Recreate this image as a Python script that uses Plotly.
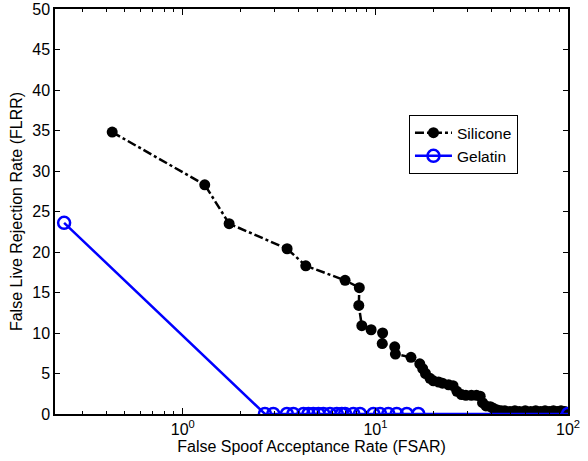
import plotly.graph_objects as go
import math

silicone_x = [0.43, 1.30, 1.74, 3.48, 4.35, 6.96, 8.25, 8.2, 8.5, 9.5, 10.9, 10.85,
              12.6, 12.7, 15.3, 17.0, 17.6, 18.2, 19.2, 20.0, 21.3, 22.3, 24.0, 25.3,
              26.5, 28.0, 29.5, 31.5, 33.5, 35.0, 36.0, 37.5, 39.5, 41.0, 43.0, 45.0,
              47.0, 50.0, 53.0, 56.0, 60.0, 64.0, 68.0, 72.0, 76.0, 80.0, 84.0, 88.0,
              92.0, 96.0, 100.0]
silicone_y = [34.8, 28.3, 23.5, 20.4, 18.3, 16.5, 15.6, 13.4, 10.9, 10.4, 10.0, 8.7,
              8.3, 7.4, 7.0, 6.2, 5.6, 5.0, 4.4, 4.1, 3.95, 3.8, 3.6, 3.5,
              2.8, 2.4, 2.3, 2.3, 2.3, 2.2, 1.4, 1.0, 0.9, 0.7, 0.5, 0.4,
              0.4, 0.3, 0.4, 0.3, 0.4, 0.3, 0.4, 0.3, 0.4, 0.3, 0.4, 0.3,
              0.4, 0.3, 0.2]

gelatin_x = [0.242, 2.67, 2.95, 3.47, 3.75, 4.23, 4.49, 4.76, 5.06, 5.37, 5.81, 6.30,
             6.69, 6.96, 7.68, 8.32, 9.76, 10.57, 11.67, 12.9, 14.55, 16.7, 100.0]
gelatin_y = [23.6] + [0.0] * 22

x_tick_vals = [1, 10, 100]
x_tick_text = ["10<sup>0</sup>", "10<sup>1</sup>", "10<sup>2</sup>"]
y_tick_vals = list(range(0, 51, 5))

fig = go.Figure()
fig.add_trace(go.Scatter(
    x=silicone_x, y=silicone_y, name="Silicone", mode="lines+markers",
    line=dict(color="black", width=2.5, dash="dashdot"),
    marker=dict(symbol="circle", size=11, color="black"),
))
fig.add_trace(go.Scatter(
    x=gelatin_x, y=gelatin_y, name="Gelatin", mode="lines+markers",
    line=dict(color="#0000ff", width=2.5),
    marker=dict(symbol="circle-open", size=12, color="#0000ff", line=dict(width=2.5)),
))

font = "Liberation Sans, Arial, Helvetica, sans-serif"
fig.update_layout(
    width=588, height=461,
    margin=dict(l=55, r=20, t=9, b=47),
    paper_bgcolor="white", plot_bgcolor="white",
    font=dict(family=font, size=16, color="black"),
    showlegend=True,
    legend=dict(x=0.69, y=0.738, xanchor="left", yanchor="top",
                bordercolor="black", borderwidth=1, bgcolor="white",
                font=dict(size=15.5), tracegroupgap=0, itemwidth=37),
)
fig.update_xaxes(
    type="log", range=[math.log10(0.217), 2],
    tickvals=x_tick_vals, ticktext=x_tick_text,
    ticks="inside", ticklen=6, tickwidth=1, tickcolor="black",
    minor=dict(ticks="inside", ticklen=3, tickcolor="black", dtick="D1", showgrid=False),
    showline=True, linecolor="black", linewidth=1.5, mirror="ticks",
    showgrid=False, zeroline=False,
    title=dict(text="False Spoof Acceptance Rate (FSAR)", font=dict(size=16), standoff=0),
    tickfont=dict(size=16),
    automargin=False,
)
fig.update_yaxes(
    range=[0, 50], tickvals=y_tick_vals,
    ticks="inside", ticklen=5, tickwidth=1, tickcolor="black",
    showline=True, linecolor="black", linewidth=1.5, mirror="ticks",
    showgrid=False, zeroline=False,
    title=dict(text="False Live Rejection Rate (FLRR)", font=dict(size=16), standoff=6),
    tickfont=dict(size=16),
    automargin=False,
)

fig.write_html("out.html", config={"displayModeBar": False},
               post_script="document.body.style.margin='0px';document.body.style.padding='0px';")
